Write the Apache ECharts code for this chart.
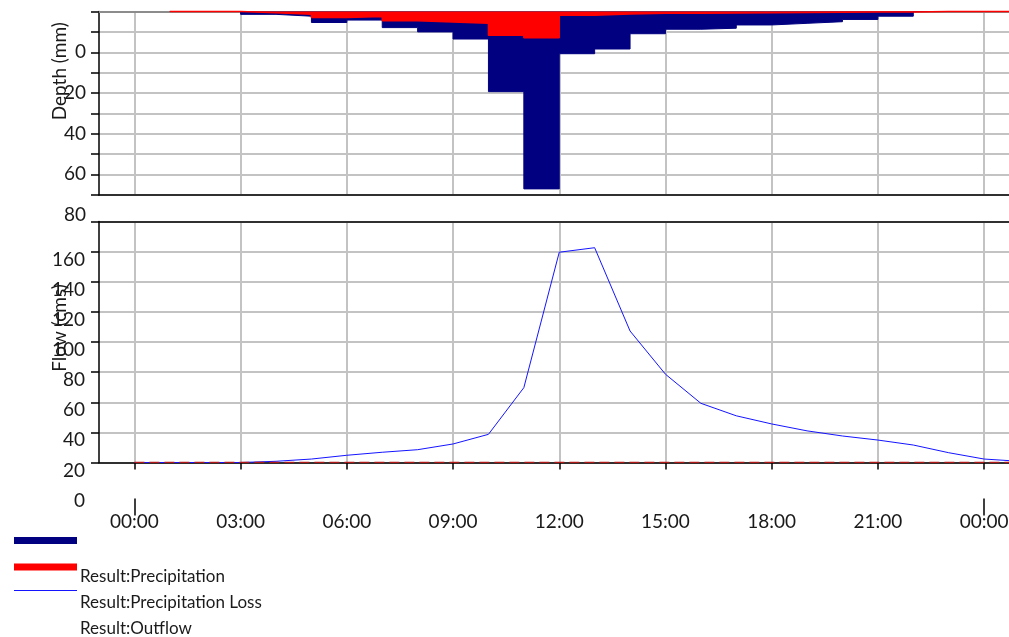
<!DOCTYPE html>
<html>
<head>
<meta charset="utf-8">
<script src="https://cdn.jsdelivr.net/npm/echarts@6/dist/echarts.min.js"></script>
<style>
html,body{margin:0;padding:0;background:#ffffff;}
#chart{width:1009px;height:637px;}
</style>
</head>
<body>
<div id="chart"></div>
<script>
// ---- data: hourly; depth values belong to the hour interval that starts at that time ----
const hourLabels = ['23:00','00:00','01:00','02:00','03:00','04:00','05:00','06:00','07:00','08:00','09:00','10:00','11:00','12:00','13:00','14:00','15:00','16:00','17:00','18:00','19:00','20:00','21:00','22:00','23:00','00:00','01:00'];
const precipitation = [null, null, 0, 0, 1.4, 2.3, 5.4, 4.2, 7.9, 10.0, 13.5, 39.3, 87.0, 20.7, 18.4, 10.9, 8.7, 8.2, 6.6, 5.8, 5.0, 3.9, 2.3, 0, 0, 0, 0];
const precipitationLoss = [null, null, 0, 0, 0.6, 1.4, 3.0, 2.5, 4.5, 5.1, 5.8, 11.7, 12.9, 1.9, 1.2, 0.9, 0.8, 0.7, 0.6, 0.5, 0.4, 0.3, 0.3, 0, 0, 0, 0];
const outflow = [null, 0, 0, 0, 0, 0.8, 2.3, 4.8, 6.8, 8.5, 12.3, 18.7, 49.7, 139.6, 142.6, 87.3, 58.6, 39.3, 31.0, 25.6, 21.0, 17.6, 14.9, 11.6, 6.5, 2.3, 0.8];
const baseline = [null, 0, 0, 0, 0, 0, 0, 0, 0, 0, 0, 0, 0, 0, 0, 0, 0, 0, 0, 0, 0, 0, 0, 0, 0, 0, 0];
const depthTickLabels = [0, 20, 40, 60, 80];
const flowTickLabels = [0, 20, 40, 60, 80, 100, 120, 140, 160];
const seriesNames = ['Result:Precipitation', 'Result:Precipitation Loss', 'Result:Outflow'];

const FONT = 'Lato';
const TEXT = '#1a1a1a';
const GRIDLINE = '#c3c3c3';
const majorTick = (i) => i % 3 === 1;
const dayTick = (i) => i % 24 === 1;
const hidden = { axisTick: { show: false }, axisLabel: { show: false }, splitLine: { show: false } };

const chart = echarts.init(document.getElementById('chart'), null, { renderer: 'canvas' });
chart.setOption({
  animation: false,
  backgroundColor: '#ffffff',
  textStyle: { fontFamily: FONT },
  grid: [
    { left: 99, right: -10.5, top: 11.5, height: 183.5, outerBoundsMode: 'none' },
    { left: 99, right: -10.5, top: 221.5, height: 241, outerBoundsMode: 'none' }
  ],
  xAxis: [
    { gridIndex: 0, type: 'category', data: hourLabels, boundaryGap: false, position: 'top',
      axisLine: { onZero: false, lineStyle: { color: '#8c8c8c', width: 2 } },
      axisTick: { show: false }, axisLabel: { show: false },
      splitLine: { show: true, interval: majorTick, lineStyle: { color: GRIDLINE, width: 2 } } },
    Object.assign({ gridIndex: 0, type: 'category', data: hourLabels, boundaryGap: false, position: 'bottom',
      axisLine: { onZero: false, lineStyle: { color: '#000', width: 1.5 } } }, hidden),
    { gridIndex: 1, type: 'category', data: hourLabels, boundaryGap: false, position: 'bottom',
      axisLine: { onZero: false, lineStyle: { color: '#000', width: 1.5 } },
      axisTick: { show: true, interval: majorTick, length: 7, lineStyle: { color: '#000', width: 1.5 } },
      axisLabel: { show: true, interval: majorTick, margin: 8, padding: [42, 0, 0, 0], fontSize: 19, color: TEXT, fontFamily: FONT },
      splitLine: { show: true, interval: majorTick, lineStyle: { color: GRIDLINE, width: 2 } } },
    Object.assign({ gridIndex: 1, type: 'category', data: hourLabels, boundaryGap: false, position: 'top',
      axisLine: { onZero: false, lineStyle: { color: '#000', width: 1.5 } } }, hidden),
    { gridIndex: 1, type: 'category', data: hourLabels, boundaryGap: false, position: 'bottom', offset: 36,
      axisLine: { show: false, onZero: false },
      axisTick: { show: true, interval: dayTick, length: 17, lineStyle: { color: '#000', width: 1.5 } },
      axisLabel: { show: false }, splitLine: { show: false } }
  ],
  yAxis: [
    { gridIndex: 0, type: 'value', inverse: true, min: 0, max: 90, interval: 10,
      name: 'Depth (mm)', nameLocation: 'middle', nameGap: 30, nameMoveOverlap: false,
      nameTextStyle: { fontSize: 19, color: TEXT, fontFamily: FONT, padding: [0, 0, 0, 64] },
      axisLine: { show: true, lineStyle: { color: '#000', width: 1.5 } },
      axisTick: { show: true, length: 8, lineStyle: { color: '#000', width: 1.5 } },
      axisLabel: { margin: 13, fontSize: 19, lineHeight: 81, color: TEXT, fontFamily: FONT,
        formatter: (v) => depthTickLabels.indexOf(v) >= 0 ? '\n' + v : '' },
      splitLine: { show: true, lineStyle: { color: GRIDLINE, width: 2 } } },
    { gridIndex: 1, type: 'value', min: 0, max: 160, interval: 20, position: 'left',
      name: 'Flow (cms)', nameLocation: 'middle', nameGap: 30, nameMoveOverlap: false,
      nameTextStyle: { fontSize: 19, color: TEXT, fontFamily: FONT, padding: [0, 0, 0, 28] },
      axisLine: { show: true, lineStyle: { color: '#000', width: 1.5 } },
      axisTick: { show: true, length: 8, lineStyle: { color: '#000', width: 1.5 } },
      axisLabel: { show: false },
      splitLine: { show: true, lineStyle: { color: GRIDLINE, width: 2 } } },
    { gridIndex: 1, type: 'value', min: 0, max: 160, interval: 10, position: 'left',
      axisLine: { show: false }, axisTick: { show: false }, splitLine: { show: false },
      axisLabel: { margin: 14, fontSize: 19, lineHeight: 76, color: TEXT, fontFamily: FONT,
        formatter: (v) => flowTickLabels.indexOf(v) >= 0 ? '\n' + v : '' } }
  ],
  legend: [
    { orient: 'vertical', left: 14, top: 537, height: 90, padding: 0, itemWidth: 63, itemHeight: 7, itemGap: 19.5,
      selectedMode: false,
      data: [ { name: seriesNames[0], icon: 'rect' }, { name: seriesNames[1], icon: 'rect' },
              { name: seriesNames[2], icon: 'path://M0,0L63,0L63,1L0,1Z' } ],
      formatter: () => '', textStyle: { fontSize: 1, lineHeight: 1 } },
    { orient: 'vertical', left: 75, top: 564, height: 100, padding: 0, itemWidth: 0, itemHeight: 1, itemGap: 0,
      icon: 'none', selectedMode: false, data: seriesNames,
      textStyle: { fontSize: 17, lineHeight: 26, color: TEXT, fontFamily: FONT } }
  ],
  series: [
    { name: seriesNames[0], type: 'line', xAxisIndex: 0, yAxisIndex: 0, data: precipitation, step: 'end',
      symbol: 'none', showSymbol: false, color: '#000080', itemStyle: { color: '#000080' },
      lineStyle: { color: '#000080', width: 1 }, areaStyle: { color: '#000080', opacity: 1 }, clip: false, z: 2 },
    { name: seriesNames[1], type: 'line', xAxisIndex: 0, yAxisIndex: 0, data: precipitationLoss, step: 'end',
      symbol: 'none', showSymbol: false, color: '#ff0000', itemStyle: { color: '#ff0000' },
      lineStyle: { color: '#ff0000', width: 1.5 }, areaStyle: { color: '#ff0000', opacity: 1 }, clip: false, z: 3 },
    { name: seriesNames[2], type: 'line', xAxisIndex: 2, yAxisIndex: 1, data: outflow,
      symbol: 'none', showSymbol: false, color: '#1414ff', itemStyle: { color: '#1414ff' },
      lineStyle: { color: '#1414ff', width: 1 }, z: 3 },
    { name: 'Baseflow', type: 'line', xAxisIndex: 2, yAxisIndex: 1, data: baseline,
      symbol: 'none', showSymbol: false, color: '#b01818',
      lineStyle: { color: '#b01818', width: 1.5, type: [10, 5] }, z: 4 }
  ]
});
</script>
</body>
</html>
